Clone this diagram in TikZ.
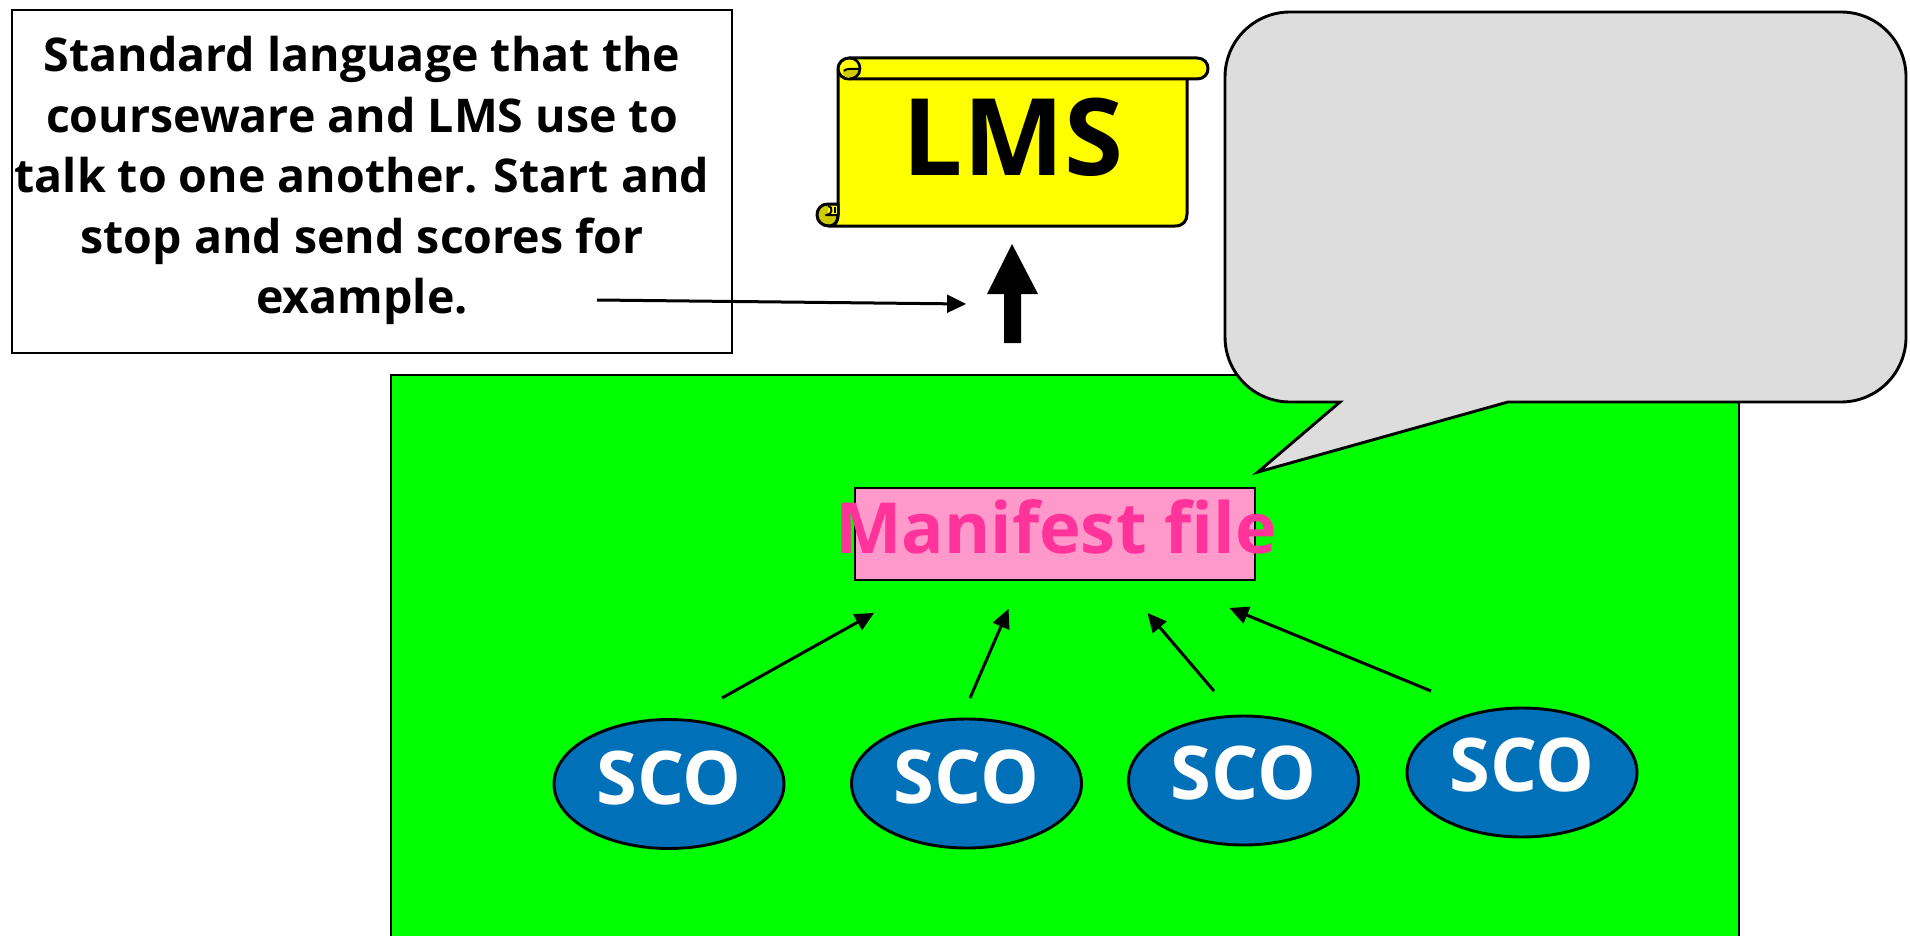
\documentclass[tikz,border=0pt]{standalone}
\usepackage{fontspec}
\setmainfont{Open Sans}[BoldFont={Open Sans Bold}]
\usetikzlibrary{shapes.geometric,calc}
\definecolor{mgreen}{HTML}{00FF00}
\definecolor{mpink}{HTML}{FF99CC}
\definecolor{mmag}{HTML}{FF3399}
\definecolor{mblue}{HTML}{0070B8}
\definecolor{mgrey}{HTML}{DDDDDD}
\definecolor{mdark}{HTML}{CCCC00}
\definecolor{myellow}{HTML}{FFFF00}
\tikzset{
  x=1pt,y=-1pt,
  outl/.style={draw=black,line width=2.9pt,line join=miter},
  thinarrow/.style={draw=black,line width=3pt},
  scroll/.style={draw=black,line width=3pt,line join=round},
  scoell/.style={ellipse,outl,fill=mblue,minimum width=230pt,minimum height=129pt,inner sep=0pt},
  scotxt/.style={anchor=base,text=white,font=\fontsize{74}{74}\selectfont\bfseries,inner sep=0pt},
}
\newcommand{\thinarr}[2]{%
  \draw[thinarrow,shorten >=14pt] (#1) -- (#2);
  \fill[black] let \p1=($(#1)-(#2)$), \n1={atan2(\y1,\x1)} in
    (#2) -- ([shift={(\n1+26:21pt)}]#2) -- ([shift={(\n1-26:21pt)}]#2) -- cycle;
}
\begin{document}
\begin{tikzpicture}
\clip (0,0) rectangle (1910,936);
\fill[white] (0,0) rectangle (1910,936);
% green panel
\path[outl,fill=mgreen] (391,375) rectangle (1739,960);
% text box
\path[outl,fill=white] (12,10) rectangle (732,353);
\node[align=center,anchor=north,inner sep=0pt,font=\fontsize{46.5}{60.5}\selectfont\bfseries] (note) at (362,36)
 {Standard language that the\\courseware and LMS use to\\talk to one another. Start and\\stop and send scores for\\example.};
% scroll body
\path[scroll,fill=myellow] (838,70) -- (838,215) .. controls (838,221) and (835,226) .. (829,226) -- (1175,226) .. controls (1183,226) and (1187,221) .. (1187,214) -- (1187,70) -- cycle;
% scroll top roll
\path[scroll,fill=myellow] (849,58) -- (1197,58) .. controls (1204,58) and (1208,63) .. (1208,68.5) .. controls (1208,74) and (1204,79) .. (1197,79) -- (849,79) .. controls (843,79) and (838,75) .. (838,68.5) .. controls (838,63) and (843,58) .. (849,58) -- cycle;
\fill[mdark] (843,69) -- (859,69) .. controls (859,75) and (855,78) .. (849,78) .. controls (845,78) and (842,74) .. (843,69) -- cycle;
\draw[scroll,line width=2.6pt] (849,58) .. controls (856,58) and (860,63) .. (860,68.5) .. controls (860,75) and (855,79) .. (849,79);
\draw[scroll,line width=2pt] (844,71) .. controls (846,68) and (852,69) .. (860,69);
% scroll bottom curl
\path[scroll,fill=mdark] (838,204) -- (828,204) .. controls (821,204) and (817,209) .. (817,215) .. controls (817,221) and (822,226) .. (829,226) .. controls (835,226) and (838,221) .. (838,215) -- cycle;
\fill[myellow] (828,206) -- (836.5,206) -- (836.5,215.5) -- (828,215.5) -- cycle;
\draw[scroll,line width=2pt] (828,206) .. controls (833,206) and (833,215) .. (826,215) -- (838,215);
\draw[line width=1.5pt] (835,207) -- (835,213);
\node[anchor=base,inner sep=0pt,font=\fontsize{107}{107}\selectfont\bfseries] (lms) at (1013,176) {LMS};
% block arrow
\fill[black] (1012,244) -- (1038,294) -- (1021,294) -- (1021,343) -- (1004,343) -- (1004,294) -- (987,294) -- cycle;
% long thin arrow
\coordinate (nf) at (597,300);
\coordinate (nt) at (966,304);
\thinarr{nf}{nt}
% callout
\path[outl,fill=mgrey] (1290,12) -- (1841,12) .. controls (1877,12) and (1906,41) .. (1906,77) -- (1906,337) .. controls (1906,373) and (1877,402) .. (1841,402) -- (1508,402) -- (1258,472) -- (1340,402) -- (1290,402) .. controls (1254,402) and (1225,373) .. (1225,337) -- (1225,77) .. controls (1225,41) and (1254,12) .. (1290,12) -- cycle;
% manifest
\path[outl,fill=mpink] (855,488) rectangle (1255,580);
\node[anchor=base,inner sep=0pt,text=mmag,font=\fontsize{70.5}{70.5}\selectfont\bfseries] (man) at (1056,553) {Manifest file};
% SCOs
\node[scoell] (s1) at (669,784) {};
\node[scoell] (s2) at (966.5,783.5) {};
\node[scoell] (s3) at (1243.5,780.5) {};
\node[scoell] (s4) at (1522,772.5) {};
\node[scotxt] at (669,804) {SCO};
\node[scotxt] at (966.5,803) {SCO};
\node[scotxt] at (1243.5,799) {SCO};
\node[scotxt] at (1522,791) {SCO};
% arrows
\coordinate (a1f) at (722,698); \coordinate (a1t) at (874,613);
\coordinate (a2f) at (970,698); \coordinate (a2t) at (1008.5,609);
\coordinate (a3f) at (1214,691); \coordinate (a3t) at (1147.5,613);
\coordinate (a4f) at (1431,691); \coordinate (a4t) at (1229.5,608);
\thinarr{a1f}{a1t}
\thinarr{a2f}{a2t}
\thinarr{a3f}{a3t}
\thinarr{a4f}{a4t}
\end{tikzpicture}
\end{document}
